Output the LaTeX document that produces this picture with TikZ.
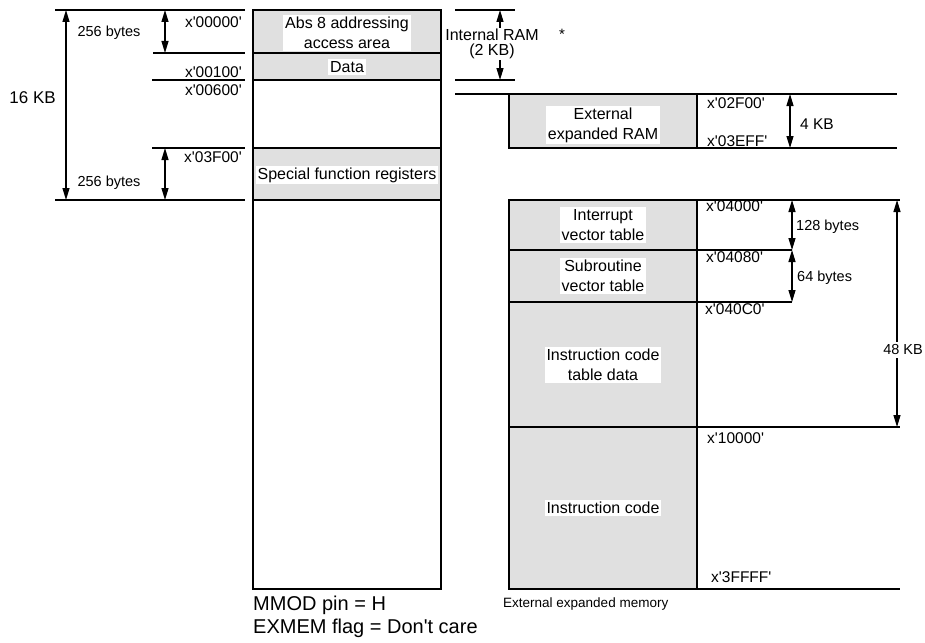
\documentclass[tikz,border=0pt]{standalone}
\usepackage{fontspec}
\setmainfont{Liberation Sans}
\usetikzlibrary{arrows.meta}
\newcommand\sq{\textquotesingle}
\begin{document}
\begin{tikzpicture}[x=1pt,y=-1pt,
  rule/.style={line width=1.2pt},
  memblock/.style={draw,line width=1.5pt},
  shadeblock/.style={memblock,fill=black!12},
  dimarrow/.style={line width=1.2pt,{Triangle[width=7pt,length=12pt]}-{Triangle[width=7pt,length=12pt]}},
  addr/.style={font=\fontsize{15.5}{16}\selectfont,inner sep=0pt},
  sizelbl/.style={font=\fontsize{14.5}{16}\selectfont,inner sep=1pt},
  boxtext/.style={font=\fontsize{16}{20}\selectfont,fill=white,align=center,inner sep=2pt},
  foot/.style={font=\fontsize{20}{22}\selectfont,inner sep=0pt,anchor=west}]
\useasboundingbox (0,0) rectangle (925,642);

% ---------- left column ----------
\draw[shadeblock] (253,10) rectangle (441,53);
\draw[shadeblock] (253,53) rectangle (441,80);
\draw[memblock]   (253,80) rectangle (441,148);
\draw[shadeblock] (253,148) rectangle (441,200);
\draw[memblock]   (253,200) rectangle (441,589);
\node[boxtext] (abs) at (347,33) {Abs 8 addressing\\access area};
\node[boxtext] (data) at (347,67) {Data};
\node[boxtext] (sfr) at (347,175) {Special function registers};

% left rules
\coordinate (l10a) at (55,10);   \coordinate (l10b) at (245,10);
\coordinate (l53a) at (153,53);  \coordinate (l53b) at (245,53);
\coordinate (l80a) at (152,80);  \coordinate (l80b) at (245,80);
\coordinate (l148a) at (152,148);\coordinate (l148b) at (245,148);
\coordinate (l200a) at (55,200); \coordinate (l200b) at (245,200);
\draw[rule] (l10a) -- (l10b);
\draw[rule] (l53a) -- (l53b);
\draw[rule] (l80a) -- (l80b);
\draw[rule] (l148a) -- (l148b);
\draw[rule] (l200a) -- (l200b);

\coordinate (k16t) at (66,10);   \coordinate (k16b) at (66,200);
\coordinate (b1t) at (165,10);   \coordinate (b1b) at (165,53);
\coordinate (b2t) at (165,148);  \coordinate (b2b) at (165,200);
\draw[dimarrow] (k16t) -- (k16b);
\draw[dimarrow] (b1t) -- (b1b);
\draw[dimarrow] (b2t) -- (b2b);
\node[sizelbl,font=\fontsize{17}{18}\selectfont,anchor=east] (kb16) at (57,98) {16 KB};
\node[sizelbl] (by1) at (109,33) {256 bytes};
\node[sizelbl] (by2) at (109,183) {256 bytes};
\node[addr,anchor=east] (a0) at (242,22) {x\sq 00000\sq};
\node[addr,anchor=east] (a1) at (242,72) {x\sq 00100\sq};
\node[addr,anchor=east] (a6) at (242,90) {x\sq 00600\sq};
\node[addr,anchor=east] (a3f) at (242,157) {x\sq 03F00\sq};

% ---------- internal RAM ----------
\coordinate (ir1a) at (455,10); \coordinate (ir1b) at (515,10);
\coordinate (ir2a) at (455,80); \coordinate (ir2b) at (515,80);
\draw[rule] (ir1a) -- (ir1b);
\draw[rule] (ir2a) -- (ir2b);
\coordinate (irt) at (500,10); \coordinate (irb) at (500,80);
\draw[dimarrow] (irt) -- (irb);
\node[boxtext,font=\fontsize{16}{15}\selectfont,inner sep=1pt] (iram) at (492,44) {Internal RAM\\(2 KB)};
\node[font=\fontsize{15}{16}\selectfont,inner sep=0pt] (star) at (562,34) {*};

% ---------- external RAM ----------
\coordinate (e1a) at (455,94); \coordinate (e1b) at (897,94);
\draw[rule] (e1a) -- (e1b);
\draw[shadeblock] (509,94) rectangle (697,148);
\node[boxtext] (xram) at (603,125) {External\\expanded RAM};
\coordinate (e2a) at (697,148); \coordinate (e2b) at (897,148);
\draw[rule] (e2a) -- (e2b);
\coordinate (k4t) at (790,94); \coordinate (k4b) at (790,148);
\draw[dimarrow] (k4t) -- (k4b);
\node[sizelbl,font=\fontsize{15.5}{16}\selectfont,anchor=west] (kb4) at (799,124) {4 KB};
\node[addr,anchor=west] (a2f) at (707,103) {x\sq 02F00\sq};
\node[addr,anchor=west] (a3e) at (707,141) {x\sq 03EFF\sq};

% ---------- external expanded memory ----------
\draw[shadeblock] (509,200) rectangle (697,250);
\draw[shadeblock] (509,250) rectangle (697,302);
\draw[shadeblock] (509,302) rectangle (697,427);
\draw[shadeblock] (509,427) rectangle (697,589);
\node[boxtext] (ivt) at (603,225) {Interrupt\\vector table};
\node[boxtext] (svt) at (603,276) {Subroutine\\vector table};
\node[boxtext] (ictd) at (603,365) {Instruction code\\table data};
\node[boxtext] (ic) at (603,508) {Instruction code};

\coordinate (r200a) at (697,200); \coordinate (r200b) at (900,200);
\coordinate (r250a) at (697,250); \coordinate (r250b) at (792,250);
\coordinate (r302a) at (697,302); \coordinate (r302b) at (792,302);
\coordinate (r427a) at (697,427); \coordinate (r427b) at (900,427);
\coordinate (r589a) at (697,589); \coordinate (r589b) at (900,589);
\draw[rule] (r200a) -- (r200b);
\draw[rule] (r250a) -- (r250b);
\draw[rule] (r302a) -- (r302b);
\draw[rule] (r427a) -- (r427b);
\draw[rule] (r589a) -- (r589b);

\coordinate (c1t) at (792,200); \coordinate (c1b) at (792,250);
\coordinate (c2t) at (792,250); \coordinate (c2b) at (792,302);
\coordinate (k48t) at (897,200); \coordinate (k48b) at (897,427);
\draw[dimarrow] (c1t) -- (c1b);
\draw[dimarrow] (c2t) -- (c2b);
\draw[dimarrow] (k48t) -- (k48b);
\node[sizelbl,fill=white,inner sep=3pt] (kb48) at (903,350) {48 KB};
\node[sizelbl,anchor=west] (by128) at (795,227) {128 bytes};
\node[sizelbl,anchor=west] (by64) at (796,278) {64 bytes};

\node[addr,anchor=west] (a40) at (706,206) {x\sq 04000\sq};
\node[addr,anchor=west] (a48) at (706,257) {x\sq 04080\sq};
\node[addr,anchor=west] (a4c) at (705,309) {x\sq 040C0\sq};
\node[addr,anchor=west] (a10) at (707,438) {x\sq 10000\sq};
\node[addr,anchor=west] (a3ff) at (711,577) {x\sq 3FFFF\sq};

% ---------- footnotes ----------
\node[foot] (mmod) at (253,605) {MMOD pin = H};
\node[foot] (exmem) at (253,628) {EXMEM flag = Don\sq t care};
\node[sizelbl,font=\fontsize{13.5}{15}\selectfont,anchor=west,inner sep=0pt] (extmem) at (503,604) {External expanded memory};
\end{tikzpicture}
\end{document}
